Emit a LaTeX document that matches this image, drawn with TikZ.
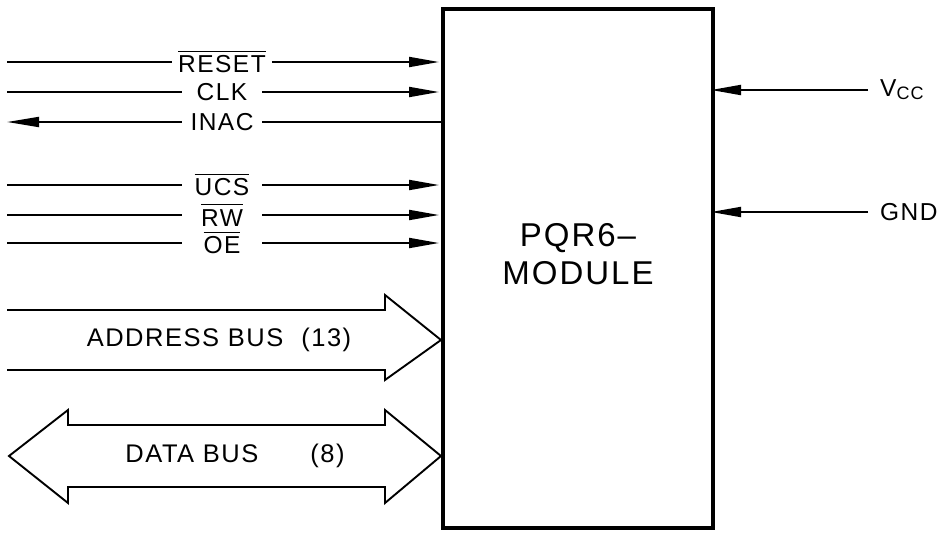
\documentclass[tikz,border=0pt]{standalone}
\usepackage{fontspec}
\setmainfont{Liberation Sans}[LetterSpace=6]
\usetikzlibrary{arrows.meta}
\newcommand{\ovl}[1]{$\overline{\hbox{\rule{0pt}{0.82em}#1}}$}
\tikzset{
  sig/.style={line width=1.9pt},
  tip/.style={-{Triangle[length=30pt,width=10pt]}},
  revtip/.style={{Triangle[length=32pt,width=10pt]}-},
  lab/.style={inner xsep=6pt, inner ysep=0pt, minimum width=80pt, font=\fontsize{24.5}{24}\selectfont},
  rlab/.style={anchor=west, inner xsep=12pt, inner ysep=0pt, font=\fontsize{24.5}{24}\selectfont},
  bus/.style={line width=1.9pt, line join=miter},
  buslab/.style={font=\fontsize{25.5}{26}\selectfont, inner sep=0pt},
}
\begin{document}
\begin{tikzpicture}[x=1pt,y=-1pt]
\useasboundingbox (0,0) rectangle (944,535);
% module box
\node[draw, line width=4.5pt, minimum width=270pt, minimum height=519pt, inner sep=0pt] (mod) at (578,268.5) {};
\node[font=\fontsize{33}{38}\selectfont, align=center, inner sep=0pt] (name) at (578,254) {PQR6--\\MODULE};
% left signals
\foreach \n/\t/\y in {reset/\ovl{RESET}/62, clk/CLK/92, inac/INAC/122, ucs/\ovl{UCS}/185, rw/\ovl{RW}/215, oe/\ovl{OE}/243}{
  \coordinate (\n L) at (7,\y);
  \coordinate (\n R) at (441,\y);
  \node[lab] (\n) at (222,\y) {\t};
}
\draw[sig] (resetL) -- (reset);
\draw[sig,tip,shorten >=2pt] (reset) -- (resetR);
\draw[sig] (clkL) -- (clk);
\draw[sig,tip,shorten >=2pt] (clk) -- (clkR);
\draw[sig,revtip] (inacL) -- (inac);
\draw[sig] (inac) -- (inacR);
\draw[sig] (ucsL) -- (ucs);
\draw[sig,tip,shorten >=2pt] (ucs) -- (ucsR);
\draw[sig] (rwL) -- (rw);
\draw[sig,tip,shorten >=2pt] (rw) -- (rwR);
\draw[sig] (oeL) -- (oe);
\draw[sig,tip,shorten >=2pt] (oe) -- (oeR);
% right signals
\node[rlab] (vcc) at (868,90) {V\raisebox{-3pt}{\fontsize{18}{18}\selectfont CC}};
\node[rlab] (gnd) at (868,212) {GND};
\coordinate (vccB) at (715,90);
\coordinate (gndB) at (715,212);
\draw[sig,tip,shorten >=-4pt] (vcc.west) -- (vccB);
\draw[sig,tip,shorten >=-4pt] (gnd.west) -- (gndB);
% address bus
\coordinate (abtip) at (441,340);
\draw[bus] (7,310) -- (385,310) -- (385,295) -- (abtip) -- (385,380) -- (385,370) -- (7,370);
\node[buslab] (ab) at (219,340) {ADDRESS BUS\hspace{18pt}(13)};
% data bus
\coordinate (dbtip) at (441,456);
\coordinate (dbltip) at (9,456);
\draw[bus] (dbltip) -- (68,410) -- (68,425) -- (385,425) -- (385,410) -- (dbtip) -- (385,503) -- (385,487) -- (68,487) -- (68,503) -- cycle;
\node[buslab] (db) at (235,456) {DATA BUS\hspace{52pt}(8)};
\end{tikzpicture}
\end{document}
